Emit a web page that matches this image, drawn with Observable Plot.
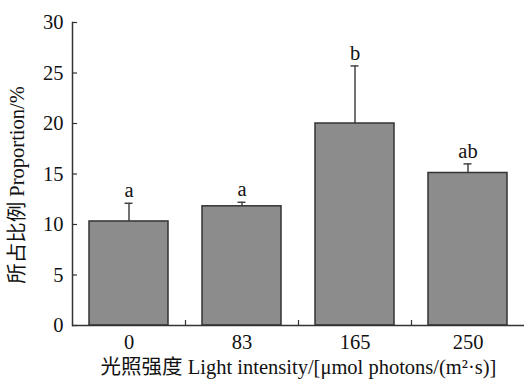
<!DOCTYPE html>
<html>
<head>
<meta charset="utf-8">
<script src="https://cdn.jsdelivr.net/npm/d3@7"></script>
<script src="https://cdn.jsdelivr.net/npm/@observablehq/plot@0.6"></script>
<style>
  html, body { margin: 0; padding: 0; background: #fff; }
  #chart svg { display: block; }
</style>
</head>
<body>
<div id="chart"></div>
<script>
const categories = ["0", "83", "165", "250"];
const means = [10.3, 11.8, 20.0, 15.1];
const errors = [1.8, 0.4, 5.7, 0.9];
const letters = ["a", "a", "b", "ab"];
const yTicks = [0, 5, 10, 15, 20, 25, 30];
const yLabel = "所占比例 Proportion/%";
const xLabel = "光照强度 Light intensity/[μmol photons/(m²·s)]";

const data = categories.map((c, i) => ({c, v: means[i], e: errors[i], top: means[i] + errors[i], l: letters[i]}));

const W = 524, H = 384, mL = 72, mR = 0, mT = 22, mB = 59;
const step = (W - mL - mR) / categories.length;
const barW = 79, capW = 8;
const inset = (step - barW) / 2;
const capInset = (step - capW) / 2;
const axisColor = "#333";
const FS = 20.5;

const chart = Plot.plot({
  width: W, height: H,
  marginLeft: mL, marginRight: mR, marginTop: mT, marginBottom: mB,
  style: {fontFamily: "'Liberation Serif', 'Noto Sans CJK SC', serif", fontSize: FS + "px", color: "#111", background: "#fff"},
  x: {domain: categories, padding: 0, label: null},
  y: {domain: [0, 30], label: null},
  marks: [
    Plot.ruleX(data, {x: "c", y1: "v", y2: "top", stroke: "#444", strokeWidth: 1.5}),
    Plot.tickY(data, {x: "c", y: "top", stroke: "#444", strokeWidth: 1.5, insetLeft: capInset, insetRight: capInset}),
    Plot.barY(data, {x: "c", y: "v", fill: "#8c8c8c", stroke: "#333", strokeWidth: 1.5, insetLeft: inset, insetRight: inset}),
    Plot.text(data, {x: "c", y: "top", text: "l", lineAnchor: "bottom", dy: -6, fontSize: FS, fill: "#111"}),
    Plot.ruleX(categories.slice(1), {x: d => d, dx: -step / 2, y1: 0, y2: 0.5, stroke: axisColor, strokeWidth: 1.2}),
    Plot.ruleY([0], {stroke: axisColor, strokeWidth: 1.5}),
    Plot.frame({anchor: "left", stroke: axisColor, strokeWidth: 1.5}),
    Plot.axisY(yTicks, {tickSize: -5, tickPadding: 14, stroke: axisColor, strokeWidth: 1.2, fontSize: FS, fill: "#111", label: null}),
    Plot.axisX({tickSize: 0, tickPadding: 9, fontSize: FS, fill: "#111", label: null}),
    Plot.text([yLabel], {frameAnchor: "left", textAnchor: "middle", rotate: -90, dx: -55, dy: 11, fontSize: FS, fill: "#111"}),
    Plot.text([xLabel], {frameAnchor: "bottom", textAnchor: "middle", dy: 48, fontSize: FS, fill: "#111"})
  ]
});
document.getElementById("chart").appendChild(chart);
</script>
</body>
</html>
